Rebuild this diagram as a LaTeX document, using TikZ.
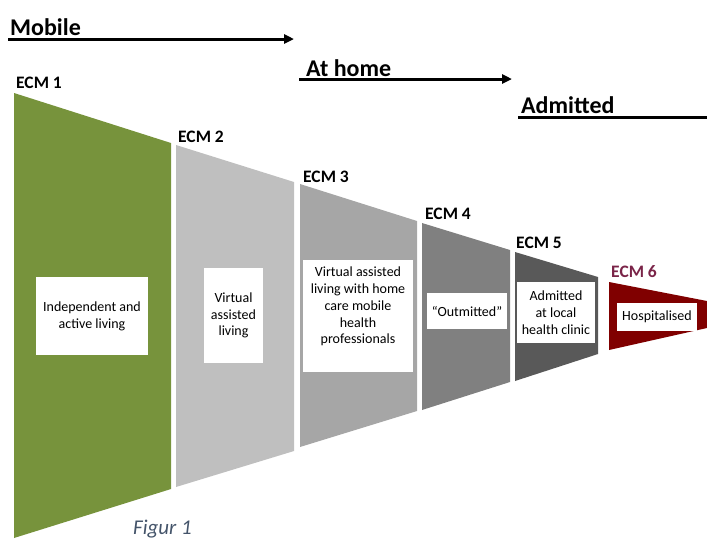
\documentclass[tikz,border=0pt]{standalone}
\usepackage{fontspec}
\setmainfont{Carlito}
\usepackage{xcolor}
\usepackage{tikz}
\usetikzlibrary{arrows}
\usetikzlibrary{positioning, arrows.meta}
\definecolor{ecmgreen}{HTML}{77933C}
\definecolor{ecmlight}{HTML}{BFBFBF}
\definecolor{ecmmid}{HTML}{A6A6A6}
\definecolor{ecmgrey}{HTML}{808080}
\definecolor{ecmdark}{HTML}{595959}
\definecolor{ecmred}{HTML}{800000}
\definecolor{ecmlabel}{HTML}{7A2448}
\definecolor{capblue}{HTML}{44546A}

\begin{document}
\begin{tikzpicture}[x=1pt, y=-1pt,
		phase/.style={font=\fontsize{24}{28}\selectfont\bfseries, inner sep=0pt, anchor=base west},
		ecm/.style={font=\fontsize{17.5}{20}\selectfont\bfseries, inner sep=0pt, anchor=base west},
		txtbox/.style={fill=white, inner sep=0pt, align=center, font=\fontsize{14}{16.7}\selectfont},
		bar/.style={line width=3pt},
		>={Triangle[length=10pt, width=9pt]}
		]
		\useasboundingbox (0,0) rectangle (707,539);
		% funnel segments
		\fill[ecmgreen] (14,93) -- (171,143) -- (171,489) -- (14,538) -- cycle;
		\fill[ecmlight] (176,145) -- (294,182) -- (294,451) -- (176,487) -- cycle;
		\fill[ecmmid] (300,184) -- (417,221) -- (417,411) -- (300,447) -- cycle;
		\fill[ecmgrey] (422,223) -- (510,250) -- (510,382) -- (422,410) -- cycle;
		\fill[ecmdark] (515,252) -- (598,277) -- (598,354) -- (515,381) -- cycle;
		\fill[ecmred] (609,282) -- (707,301) -- (707,328) -- (609,350) -- cycle;
		
		\node[ecm] (e1) at (16, 88) {ECM 1};
		\node[ecm] (e2) at (178, 142) {ECM 2};
		\node[ecm] (e3) at (303, 182) {ECM 3};
		\node[ecm] (e4) at (425, 219) {ECM 4};
		\node[ecm] (e5) at (516, 248) {ECM 5};
		\node[ecm, text=ecmlabel] (e6) at (611, 277) {ECM 6};
		
		\node[txtbox, minimum width=112, minimum height=78] (b1) at (92, 316) {Independent and\\active living};
		\node[txtbox, minimum width=59, minimum height=95] (b2) at (233.5, 315.5) {Virtual\\assisted\\living};
		\node[txtbox, minimum width=110, minimum height=112, text depth=21pt] (b3) at (358, 316) {Virtual assisted\\living with home\\care mobile\\health\\professionals};
		\node[txtbox, minimum width=80, minimum height=36] (b4) at (467, 311) {“Outmitted”};
		\node[txtbox, minimum width=78, minimum height=61] (b5) at (556, 312.5) {Admitted\\at local\\health clinic};
		\node[txtbox, minimum width=80, minimum height=28] (b6) at (657, 317) {Hospitalised};
		
		% phases
		\node[phase] (mob) at (10, 35) {Mobile};
		\coordinate (mobs) at (8, 39);
		\coordinate (mobe) at (294, 39);
		\draw[bar, ->] (mobs) to (mobe);
		\node[phase] (home) at (306, 76) {At home};
		\coordinate (homes) at (299, 79);
		\coordinate (homee) at (512, 79);
		\draw[bar, ->] (homes) to (homee);
		\node[phase] (adm) at (521, 113) {Admitted};
		\coordinate (adms) at (518, 117);
		\coordinate (adme) at (710, 117);
		\draw[bar] (adms) to (adme);
		
		\node[font=\fontsize{21}{24}\selectfont\itshape, text=capblue, inner sep=0pt, anchor=base west] (fig) at (133, 534) {Figur 1};
		
		\end{tikzpicture}
\end{document}
